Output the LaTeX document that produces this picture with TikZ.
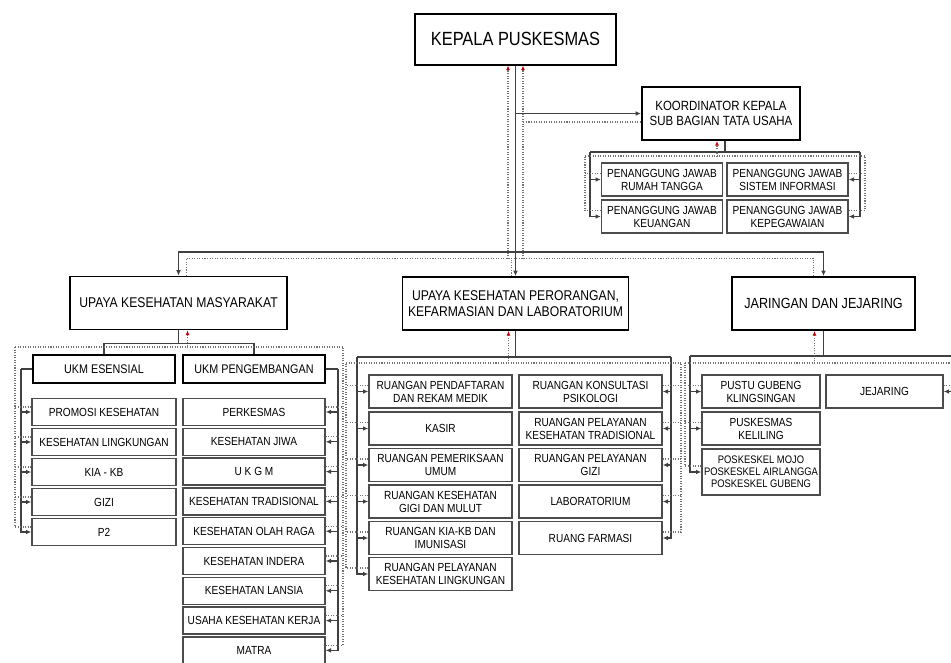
\documentclass[tikz,border=0pt]{standalone}
\usepackage{fontspec}
\setmainfont{Liberation Sans}[FakeStretch=0.86]
\usetikzlibrary{arrows.meta, positioning, calc}

\begin{document}
\begin{tikzpicture}[
    x=0.75pt, y=-0.75pt,
    box/.style={
        rectangle, draw, inner sep=1pt, align=center, fill=white
    },
    top/.style={
        box, line width=1.5pt,
        minimum width=150.75pt, minimum height=38.25pt,
        font=\fontsize{14.3}{16}\selectfont
    },
    unit/.style={
        box, line width=1.4pt,
        minimum height=39.75pt,
        font=\fontsize{10.6}{11.5}\selectfont
    },
    group/.style={
        box, line width=1.3pt,
        minimum width=106.5pt, minimum height=21pt,
        font=\fontsize{9.4}{10}\selectfont
    },
    leaf/.style={
        box, draw=black!70, line width=1pt,
        minimum width=108pt, minimum height=20.25pt,
        font=\fontsize{8.8}{9.8}\selectfont
    },
    room/.style={
        leaf, minimum width=107.25pt, minimum height=24.75pt
    },
    line/.style={draw=black!75, line width=0.8pt},
    feed/.style={line, -{Latex[length=4pt, width=3.5pt]}},
    back/.style={draw=black!55, line width=0.8pt, dash pattern=on 0.8pt off 1.1pt},
    backtip/.style={back, -{Latex[color=red!75!black, length=3.5pt, width=3pt]}}
]
\useasboundingbox (0,0) rectangle (951,662);

% head
\node[top] (kepala) at (515.5,39) {KEPALA PUSKESMAS};
\node[unit, line width=1.5pt, minimum width=118.5pt, font=\fontsize{10}{11.25}\selectfont]
    (koord) at (721,113.5) {KOORDINATOR KEPALA\\SUB BAGIAN TATA USAHA};
\node[room, minimum width=90.75pt] (pjrt) at (662,179.5)   {PENANGGUNG JAWAB\\RUMAH TANGGA};
\node[room, minimum width=90.75pt] (pjsi) at (787.5,179.5) {PENANGGUNG JAWAB\\SISTEM INFORMASI};
\node[room, minimum width=90.75pt] (pjku) at (662,216.5)   {PENANGGUNG JAWAB\\KEUANGAN};
\node[room, minimum width=90.75pt] (pjkp) at (787.5,216.5) {PENANGGUNG JAWAB\\KEPEGAWAIAN};

% three branches
\node[unit, minimum width=162.75pt] (ukm) at (178.5,303)   {UPAYA KESEHATAN MASYARAKAT};
\node[unit, minimum width=169.5pt]  (ukp) at (515.5,303.5) {UPAYA KESEHATAN PERORANGAN,\\KEFARMASIAN DAN LABORATORIUM};
\node[unit, minimum width=137.25pt, font=\fontsize{11}{12}\selectfont]
    (jar) at (823.5,303.5) {JARINGAN DAN JEJARING};

% UKM
\node[group] (ukmes) at (104,369) {UKM ESENSIAL};
\node[group] (ukmpg) at (254,369) {UKM PENGEMBANGAN};

\node[leaf] (promosi) at (104,412) {PROMOSI KESEHATAN};
\node[leaf] (kesling) at (104,442) {KESEHATAN LINGKUNGAN};
\node[leaf] (kiakb)   at (104,472) {KIA - KB};
\node[leaf] (gizi)    at (104,502) {GIZI};
\node[leaf] (ptwo)    at (104,532) {P2};

\node[leaf, minimum width=106.5pt] (perkesmas) at (254,412)   {PERKESMAS};
\node[leaf, minimum width=106.5pt] (keswa)     at (254,441.8) {KESEHATAN JIWA};
\node[leaf, minimum width=106.5pt] (ukgm)      at (254,471.6) {U K G M};
\node[leaf, minimum width=106.5pt] (kestrad)   at (254,501.4) {KESEHATAN TRADISIONAL};
\node[leaf, minimum width=106.5pt] (olahraga)  at (254,531.2) {KESEHATAN OLAH RAGA};
\node[leaf, minimum width=106.5pt] (indera)    at (254,561)   {KESEHATAN INDERA};
\node[leaf, minimum width=106.5pt] (lansia)    at (254,590.8) {KESEHATAN LANSIA};
\node[leaf, minimum width=106.5pt] (kerja)     at (254,620.6) {USAHA KESEHATAN KERJA};
\node[leaf, minimum width=106.5pt] (matra)     at (254,650.4) {MATRA};

% UKP
\node[room] (daftar)  at (440.5,391.5) {RUANGAN PENDAFTARAN\\DAN REKAM MEDIK};
\node[room] (kasir)   at (440.5,428.5) {KASIR};
\node[room] (periksa) at (440.5,465)   {RUANGAN PEMERIKSAAN\\UMUM};
\node[room] (gigi)    at (440.5,501.5) {RUANGAN KESEHATAN\\GIGI DAN MULUT};
\node[room] (kiaimun) at (440.5,538)   {RUANGAN KIA-KB DAN\\IMUNISASI};
\node[room] (ruling)  at (440.5,574)   {RUANGAN PELAYANAN\\KESEHATAN LINGKUNGAN};

\node[room] (psikologi)   at (590.5,391.5) {RUANGAN KONSULTASI\\PSIKOLOGI};
\node[room] (tradisional) at (590.5,428.5) {RUANGAN PELAYANAN\\KESEHATAN TRADISIONAL};
\node[room] (gizipel)     at (590.5,465)   {RUANGAN PELAYANAN\\GIZI};
\node[room] (lab)         at (590.5,501.5) {LABORATORIUM};
\node[room] (farmasi)     at (590.5,538)   {RUANG FARMASI};

% jaringan
\node[room, minimum width=88.5pt] (pustu)    at (761,391.5) {PUSTU GUBENG\\KLINGSINGAN};
\node[room, minimum width=88.5pt] (keliling) at (761,428.5) {PUSKESMAS\\KELILING};
\node[room, minimum width=88.5pt, minimum height=34.5pt, font=\fontsize{8.2}{9}\selectfont]
    (poskeskel) at (761,472) {POSKESKEL MOJO\\POSKESKEL AIRLANGGA\\POSKESKEL GUBENG};
\node[room, minimum width=87.75pt] (jejaring) at (884.5,391.5) {JEJARING};

% command lines
\coordinate (bus) at (515.5,252);
\draw[line] (kepala.south) -- (bus);
\draw[feed] (kepala.south) |- (koord.west);
\draw[feed] (bus) -| (ukm.north);
\draw[feed] (bus) -- (ukp.north);
\draw[feed] (bus) -| (jar.north);

\coordinate (kl) at (590,152);
\coordinate (kr) at (860,152);
\draw[line] ($(koord.south)+(4,0)$) -- ($(koord.south)+(4,12)$);
\draw[line] (kl) -- (kr);
\draw[feed] (kl) |- (pjrt.west);
\draw[feed] (kl) |- (pjku.west);
\draw[feed] (kr) |- (pjsi.east);
\draw[feed] (kr) |- (pjkp.east);

\draw[line] (ukm.south) -- ++(0,13) -| (ukmes.north);
\draw[line] (ukm.south) -- ++(0,13) -| (ukmpg.north);
\coordinate (el) at (21,369);
\coordinate (er) at (338,369);
\draw[line] (ukmes.west) -- (el);
\draw[line] (ukmpg.east) -- (er);
\draw[feed] (el) |- (promosi.west);
\draw[feed] (el) |- (kesling.west);
\draw[feed] (el) |- (kiakb.west);
\draw[feed] (el) |- (gizi.west);
\draw[feed] (el) |- (ptwo.west);
\draw[feed] (er) |- (perkesmas.east);
\draw[feed] (er) |- (keswa.east);
\draw[feed] (er) |- (ukgm.east);
\draw[feed] (er) |- (kestrad.east);
\draw[feed] (er) |- (olahraga.east);
\draw[feed] (er) |- (indera.east);
\draw[feed] (er) |- (lansia.east);
\draw[feed] (er) |- (kerja.east);
\draw[feed] (er) |- (matra.east);

\coordinate (pl) at (357,357);
\coordinate (pr) at (671,357);
\draw[line] (ukp.south) -- (ukp.south |- pl);
\draw[line] (pl) -- (pr);
\draw[feed] (pl) |- (daftar.west);
\draw[feed] (pl) |- (kasir.west);
\draw[feed] (pl) |- (periksa.west);
\draw[feed] (pl) |- (gigi.west);
\draw[feed] (pl) |- (kiaimun.west);
\draw[feed] (pl) |- (ruling.west);
\draw[feed] (pr) |- (psikologi.east);
\draw[feed] (pr) |- (tradisional.east);
\draw[feed] (pr) |- (gizipel.east);
\draw[feed] (pr) |- (lab.east);
\draw[feed] (pr) |- (farmasi.east);

\coordinate (jl) at (690,356);
\coordinate (jr) at (953,356);
\draw[line] (jar.south) -- (jar.south |- jl);
\draw[line] (jl) -- (jr);
\draw[feed] (jl) |- (pustu.west);
\draw[feed] (jl) |- (keliling.west);
\draw[feed] (jl) |- (poskeskel.west);
\draw[feed] (jr) |- (jejaring.east);

% reporting lines (dotted)
\coordinate (retl) at (508,259);
\coordinate (retr) at (523,259);
\draw[back] ($(ukm.north)+(8,0)$) |- ($(jar.north)+(-10,-18)$) -- ($(jar.north)+(-10,0)$);
\draw[back] ($(ukp.north)+(-4,0)$) -- ($(ukp.north)+(-4,-18)$);
\draw[backtip] (retl) -- (retl |- kepala.south);
\draw[backtip] (retr) -- (retr |- kepala.south);
\draw[back] ($(koord.west)+(0,8.5)$) coordinate (kb) -- (kb -| retr);

\coordinate (kdl) at (585,156);
\coordinate (kdr) at (865,156);
\draw[back] (kdl) -- (kdr);
\draw[backtip] ($(koord.south)+(-4,16)$) -- ($(koord.south)+(-4,0)$);
\draw[back] ($(pjrt.west)+(0,-6)$) coordinate (s) -- (s -| kdl);
\draw[back] ($(pjku.west)+(0,-6)$) -| (kdl);
\draw[back] ($(pjsi.east)+(0,-6)$) coordinate (s) -- (s -| kdr);
\draw[back] ($(pjkp.east)+(0,-6)$) -| (kdr);

\coordinate (udl) at (15,347);
\coordinate (udr) at (343,347);
\draw[back] (udl) -- (udr);
\draw[backtip] ($(ukm.south)+(9,18)$) -- ($(ukm.south)+(9,0)$);
\draw[back] ($(promosi.west)+(0,-5)$) coordinate (s) -- (s -| udl);
\draw[back] ($(kesling.west)+(0,-5)$) coordinate (s) -- (s -| udl);
\draw[back] ($(kiakb.west)+(0,-5)$) coordinate (s) -- (s -| udl);
\draw[back] ($(gizi.west)+(0,-5)$) coordinate (s) -- (s -| udl);
\draw[back] ($(ptwo.west)+(0,-5)$) -| (udl);
\draw[back] ($(perkesmas.east)+(0,-5)$) coordinate (s) -- (s -| udr);
\draw[back] ($(keswa.east)+(0,-5)$) coordinate (s) -- (s -| udr);
\draw[back] ($(ukgm.east)+(0,-5)$) coordinate (s) -- (s -| udr);
\draw[back] ($(kestrad.east)+(0,-5)$) coordinate (s) -- (s -| udr);
\draw[back] ($(olahraga.east)+(0,-5)$) coordinate (s) -- (s -| udr);
\draw[back] ($(indera.east)+(0,-5)$) coordinate (s) -- (s -| udr);
\draw[back] ($(lansia.east)+(0,-5)$) coordinate (s) -- (s -| udr);
\draw[back] ($(kerja.east)+(0,-5)$) coordinate (s) -- (s -| udr);
\draw[back] ($(matra.east)+(0,-5)$) -| (udr);

\coordinate (pdl) at (346,363);
\coordinate (pdr) at (681,363);
\draw[back] (pdl) -- (pdr);
\draw[backtip] ($(ukp.south)+(-7,33)$) -- ($(ukp.south)+(-7,0)$);
\draw[back] ($(daftar.west)+(0,-6)$) coordinate (s) -- (s -| pdl);
\draw[back] ($(kasir.west)+(0,-6)$) coordinate (s) -- (s -| pdl);
\draw[back] ($(periksa.west)+(0,-6)$) coordinate (s) -- (s -| pdl);
\draw[back] ($(gigi.west)+(0,-6)$) coordinate (s) -- (s -| pdl);
\draw[back] ($(kiaimun.west)+(0,-6)$) coordinate (s) -- (s -| pdl);
\draw[back] ($(ruling.west)+(0,-6)$) -| (pdl);
\draw[back] ($(psikologi.east)+(0,-6)$) coordinate (s) -- (s -| pdr);
\draw[back] ($(tradisional.east)+(0,-6)$) coordinate (s) -- (s -| pdr);
\draw[back] ($(gizipel.east)+(0,-6)$) coordinate (s) -- (s -| pdr);
\draw[back] ($(lab.east)+(0,-6)$) coordinate (s) -- (s -| pdr);
\draw[back] ($(farmasi.east)+(0,-6)$) -| (pdr);

\coordinate (jdl) at (685,363);
\coordinate (jdr) at (955,363);
\draw[back] (jdl) -- (jdr);
\draw[backtip] ($(jar.south)+(-9,33)$) -- ($(jar.south)+(-9,0)$);
\draw[back] ($(pustu.west)+(0,-6)$) coordinate (s) -- (s -| jdl);
\draw[back] ($(keliling.west)+(0,-6)$) coordinate (s) -- (s -| jdl);
\draw[back] ($(poskeskel.west)+(0,-6)$) -| (jdl);
\draw[back] ($(jejaring.east)+(0,-6)$) -| (jdr);

\end{tikzpicture}
\end{document}
